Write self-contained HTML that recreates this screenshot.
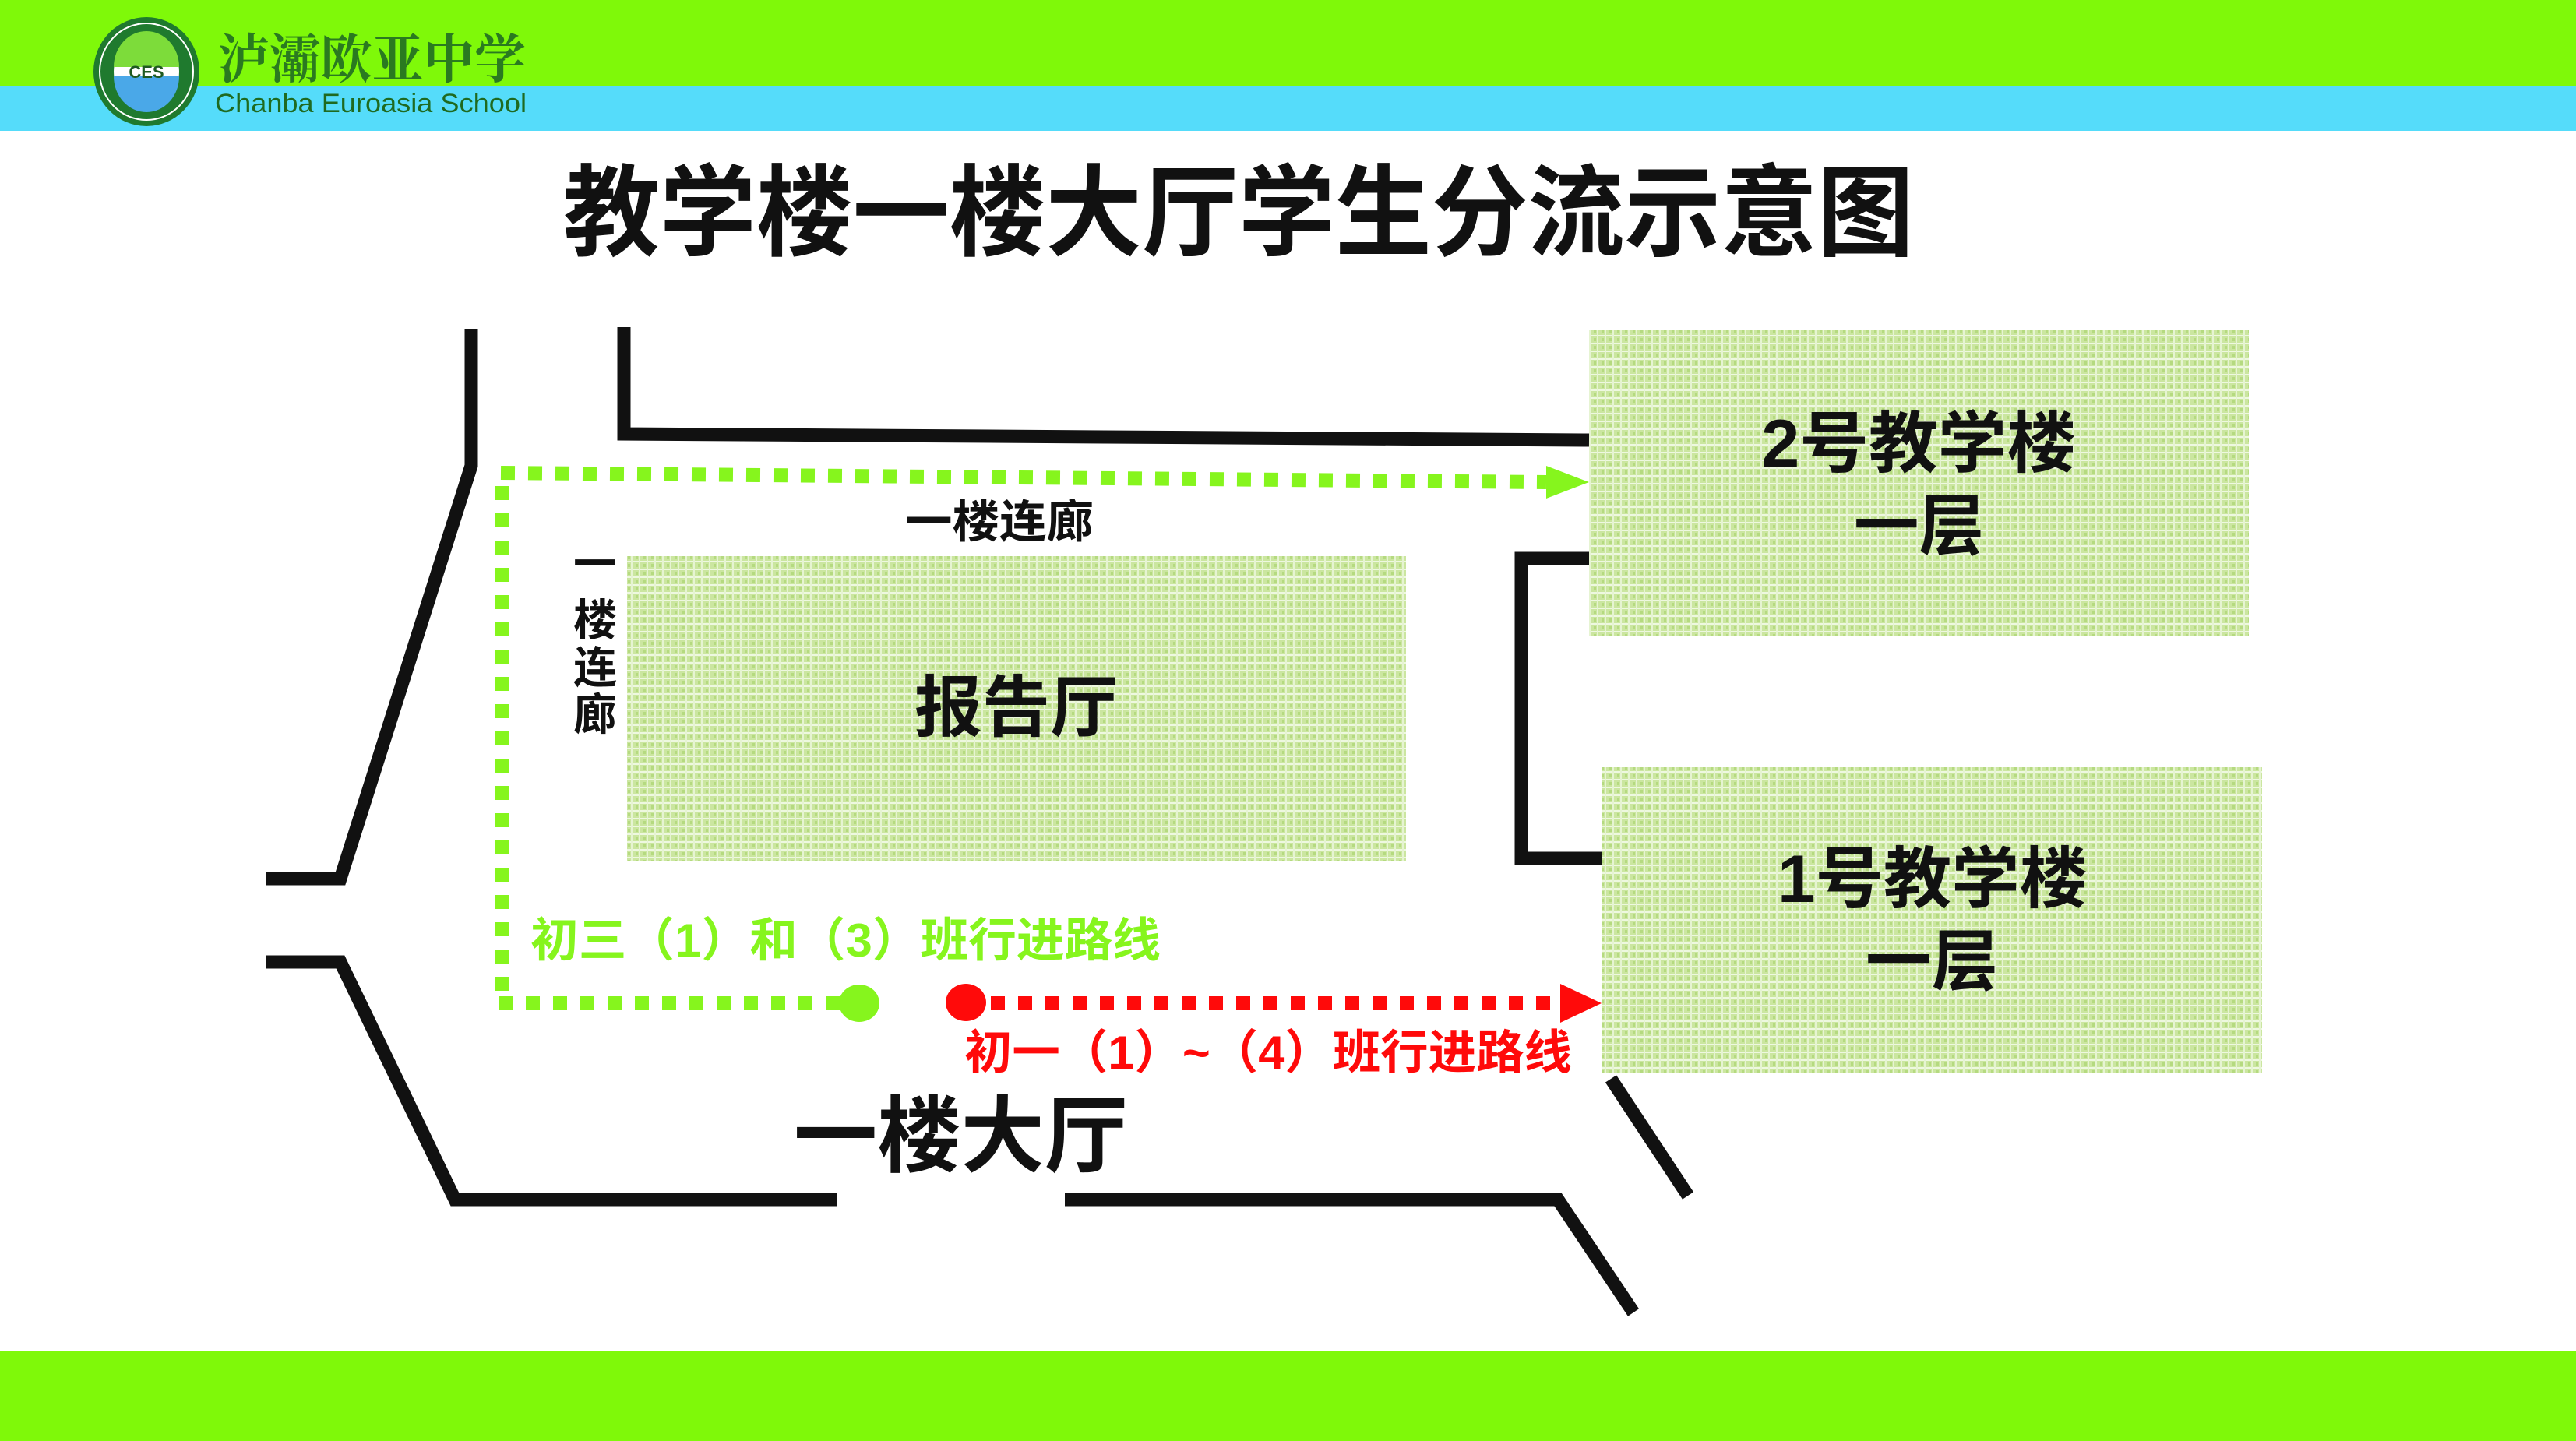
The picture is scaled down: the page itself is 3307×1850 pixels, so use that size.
<!DOCTYPE html>
<html><head><meta charset="utf-8"><style>
html,body{margin:0;padding:0;background:#fff;}
svg{display:block}
text{font-family:"Liberation Sans","Noto Sans CJK SC",sans-serif;font-weight:bold;}
</style></head><body>
<svg width="3307" height="1850" viewBox="0 0 3307 1850" xmlns="http://www.w3.org/2000/svg">
<defs>
<pattern id="tex" width="10" height="10" patternUnits="userSpaceOnUse">
<rect width="10" height="10" fill="#cbe6a0"/>
<rect x="0" y="0" width="10" height="2" fill="#eef8e0"/>
<rect x="0" y="0" width="2" height="10" fill="#e6f4d2"/>
<rect x="6" y="4" width="3" height="4" fill="#b5da80"/>
</pattern>
</defs>
<rect x="0" y="0" width="3307" height="110" fill="#7ff909"/>
<rect x="0" y="110" width="3307" height="58" fill="#55dcfa"/>
<rect x="0" y="1734" width="3307" height="116" fill="#7ff909"/>
<!-- logo -->
<ellipse cx="188" cy="92" rx="68" ry="70" fill="#1f7a2e"/>
<ellipse cx="188" cy="92" rx="60" ry="62" fill="none" stroke="#fff" stroke-width="2"/>
<ellipse cx="188" cy="92" rx="42" ry="46" fill="#fff"/>
<path d="M146 86 A42 46 0 0 1 230 86 Z" fill="#7ddc3a"/>
<path d="M146 98 A42 46 0 0 0 230 98 Z" fill="#4aa8e8"/>
<text x="188" y="100" font-size="22" fill="#1f5a20" text-anchor="middle" font-family="Liberation Serif,serif">CES</text>
<text x="280" y="100" font-size="68" fill="#2a7a20" textLength="395" lengthAdjust="spacingAndGlyphs" style="font-family:'Noto Serif CJK SC','Noto Sans CJK SC',serif">泸灞欧亚中学</text>
<text x="276" y="144" font-size="34" fill="#1f6a20" textLength="400" lengthAdjust="spacingAndGlyphs" style="font-weight:normal">Chanba Euroasia School</text>
<!-- title -->
<text x="723" y="318" font-size="128" fill="#111" textLength="1734" lengthAdjust="spacingAndGlyphs">教学楼一楼大厅学生分流示意图</text>
<!-- boxes -->
<rect x="805" y="714" width="1000" height="392" fill="url(#tex)"/>
<rect x="2040" y="424" width="847" height="392" fill="url(#tex)"/>
<rect x="2056" y="985" width="848" height="392" fill="url(#tex)"/>
<!-- walls -->
<g fill="none" stroke="#111" stroke-width="17">
<polyline points="605,422 605,598 437,1128 342,1128"/>
<polyline points="801,420 801,557 2040,565"/>
<polyline points="342,1235 437,1235 584,1540 1074,1540"/>
<polyline points="1367,1540 2000,1540 2097,1685"/>
<polyline points="2040,717 1953,717 1953,1102 2056,1102"/>
<line x1="2068" y1="1385" x2="2167" y2="1535"/>
</g>
<!-- green path -->
<g stroke="#86f51d" stroke-width="18" fill="none" stroke-dasharray="18 17">
<line x1="643" y1="607" x2="1985" y2="619"/>
<line x1="645" y1="624" x2="645" y2="1285"/>
<line x1="640" y1="1288" x2="1080" y2="1288"/>
</g>
<polygon points="1985,598 2040,619 1985,640" fill="#86f51d"/>
<ellipse cx="1103" cy="1288" rx="26" ry="24" fill="#86f51d"/>
<!-- red path -->
<g stroke="#ff0a0a" stroke-width="18" fill="none" stroke-dasharray="18 17">
<line x1="1272" y1="1288" x2="2000" y2="1288"/>
</g>
<polygon points="2003,1263 2056,1288 2003,1313" fill="#ff0a0a"/>
<ellipse cx="1240" cy="1287" rx="26" ry="24" fill="#ff0a0a"/>
<!-- labels -->
<text x="1162" y="690" font-size="58" fill="#111" textLength="242" lengthAdjust="spacingAndGlyphs">一楼连廊</text>
<text x="764" y="744" font-size="56" fill="#111" text-anchor="middle">一</text>
<text x="764" y="816" font-size="56" fill="#111" text-anchor="middle">楼</text>
<text x="764" y="877" font-size="56" fill="#111" text-anchor="middle">连</text>
<text x="764" y="937" font-size="56" fill="#111" text-anchor="middle">廊</text>
<text x="1174" y="938" font-size="86" fill="#111" textLength="261" lengthAdjust="spacingAndGlyphs">报告厅</text>
<text x="2261" y="599" font-size="86" fill="#111" textLength="404" lengthAdjust="spacingAndGlyphs">2号教学楼</text>
<text x="2380" y="705" font-size="86" fill="#111" textLength="167" lengthAdjust="spacingAndGlyphs">一层</text>
<text x="2282" y="1158" font-size="86" fill="#111" textLength="398" lengthAdjust="spacingAndGlyphs">1号教学楼</text>
<text x="2395" y="1264" font-size="86" fill="#111" textLength="170" lengthAdjust="spacingAndGlyphs">一层</text>
<text x="681" y="1228" font-size="60" fill="#86f51d" textLength="809" lengthAdjust="spacingAndGlyphs">初三（1）和（3）班行进路线</text>
<text x="1238" y="1372" font-size="60" fill="#ff0a0a" textLength="780" lengthAdjust="spacingAndGlyphs">初一（1）~（4）班行进路线</text>
<text x="1019" y="1496" font-size="108" fill="#111" textLength="429" lengthAdjust="spacingAndGlyphs">一楼大厅</text>
</svg>
</body></html>
